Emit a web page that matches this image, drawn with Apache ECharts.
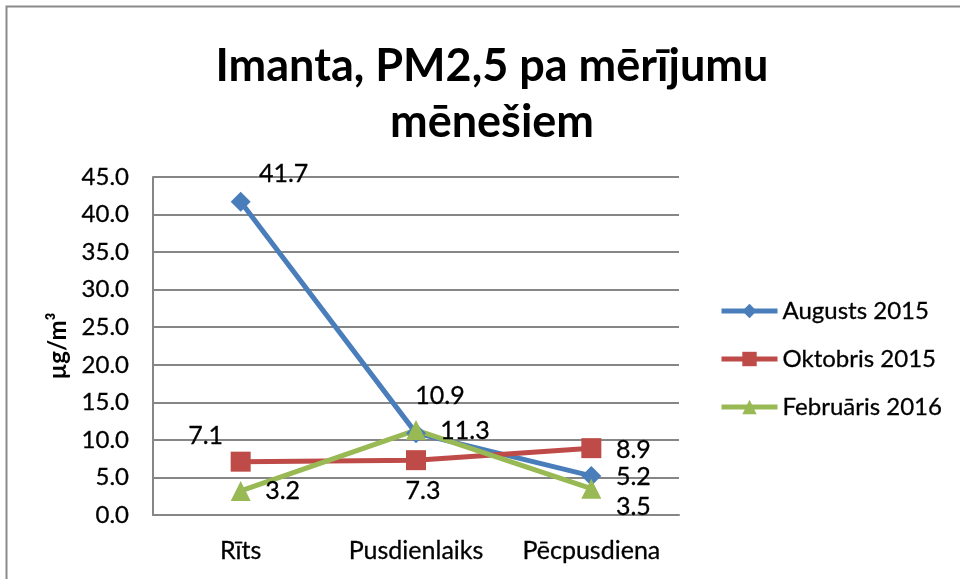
<!DOCTYPE html>
<html>
<head>
<meta charset="utf-8">
<script src="https://cdn.jsdelivr.net/npm/echarts@6/dist/echarts.min.js"></script>
<style>html,body{margin:0;padding:0;background:#fff}#c{width:960px;height:579px}</style>
</head>
<body>
<div id="c"></div>
<script>
var categories = ['Rīts', 'Pusdienlaiks', 'Pēcpusdiena'];
var augusts2015 = [41.7, 10.9, 5.2];
var oktobris2015 = [7.1, 7.3, 8.9];
var februaris2016 = [3.2, 11.3, 3.5];
var seriesNames = ['Augusts 2015', 'Oktobris 2015', 'Februāris 2016'];
var yTicks = { min: 0, max: 45, interval: 5 };

// label offsets (style only)
var offsAug = [[43, -28], [24, -37], [42, 1]];
var offsOkt = [[-35, -26], [7, 31], [42, 2]];
var offsFeb = [[42, 0], [49, 1], [42, 18]];

var FONT = 'Lato';
function withLabels(vals, offs) {
  return vals.map(function (v, i) {
    return {
      value: v,
      label: { show: true, position: 'inside', align: 'center', verticalAlign: 'middle', offset: offs[i],
               formatter: function (p) { return p.value.toFixed(1); },
               color: '#000', fontFamily: FONT, fontSize: 25, textBorderColor: '#000', textBorderWidth: 0.3 }
    };
  });
}
function mkSeries(name, vals, offs, color, symbol, size) {
  return {
    name: name, type: 'line', data: withLabels(vals, offs),
    symbol: symbol, symbolSize: size,
    lineStyle: { color: color, width: 5 },
    itemStyle: { color: color },
    z: 3
  };
}
var chart = echarts.init(document.getElementById('c'), null, { renderer: 'canvas' });
chart.setOption({
  animation: false,
  backgroundColor: '#fff',
  graphic: [{ type: 'rect', shape: { x: 6.5, y: 6.5, width: 1000, height: 1000 },
              style: { fill: 'none', stroke: '#8a8a8a', lineWidth: 2 }, silent: true, z: -1 }],
  title: {
    text: 'Imanta, PM2,5 pa mērījumu\nmēnešiem',
    left: 487, top: 33, textAlign: 'center',
    textStyle: { fontFamily: FONT, fontWeight: 'bold', fontSize: 45, lineHeight: 56, color: '#000' }
  },
  grid: { left: 153, right: 281, top: 177, bottom: 64, containLabel: false },
  legend: {
    orient: 'vertical', left: 719, top: 298, padding: 0,
    itemWidth: 56, itemHeight: 18, itemGap: 22,
    data: seriesNames,
    lineStyle: { width: 5 },
    textStyle: { fontFamily: FONT, fontSize: 24, color: '#000', lineHeight: 26, textBorderColor: '#000', textBorderWidth: 0.3 }
  },
  xAxis: {
    type: 'category', data: categories, boundaryGap: true,
    axisLine: { lineStyle: { color: '#868686', width: 2 } },
    axisTick: { show: false },
    axisLabel: { interval: 0, hideOverlap: false, fontFamily: FONT, fontSize: 25, color: '#000', margin: 23,
                 textBorderColor: '#000', textBorderWidth: 0.3 }
  },
  yAxis: {
    type: 'value', min: yTicks.min, max: yTicks.max, interval: yTicks.interval,
    name: 'µg/m³', nameLocation: 'middle', nameRotate: 90, nameGap: 80,
    nameTextStyle: { fontFamily: FONT, fontWeight: 'bold', fontSize: 24, color: '#000' },
    axisLine: { show: true, lineStyle: { color: '#868686', width: 2 } },
    axisTick: { show: false },
    splitLine: { lineStyle: { color: '#868686', width: 2 } },
    axisLabel: { fontFamily: FONT, fontSize: 24, color: '#000', margin: 24, textBorderColor: '#000', textBorderWidth: 0.3,
                 formatter: function (v) { return v.toFixed(1); } }
  },
  series: [
    mkSeries(seriesNames[0], augusts2015, offsAug, '#4A7EBB', 'diamond', 20),
    mkSeries(seriesNames[1], oktobris2015, offsOkt, '#BE4B48', 'rect', 20),
    mkSeries(seriesNames[2], februaris2016, offsFeb, '#98B954', 'triangle', 20)
  ]
});
</script>
</body>
</html>
